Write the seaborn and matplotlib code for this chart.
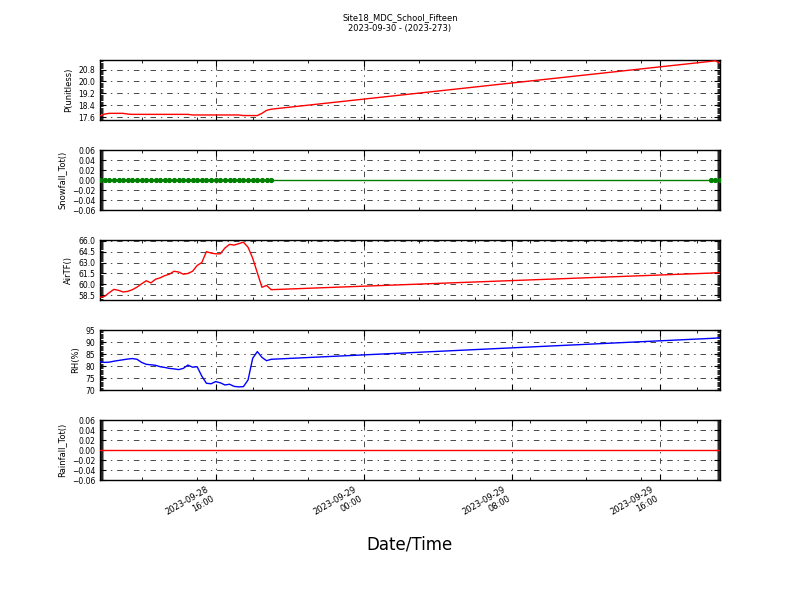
import pandas as pd
import seaborn as sns
import matplotlib.pyplot as plt
import matplotlib.dates as mdates
from matplotlib.ticker import AutoMinorLocator

# Título e rótulos
TITLE = "Site18_MDC_School_Fifteen\n2023-09-30 - (2023-273)"
XLABEL = "Date/Time"

# Tempos (15 min): bloco inicial + bloco final, com lacuna entre eles
times_start = pd.date_range("2023-09-28 09:45", "2023-09-28 19:00", freq="15min")
times_end = pd.date_range("2023-09-29 18:45", "2023-09-29 19:15", freq="15min")
times = times_start.append(times_end)

pressure = [17.68, 17.80, 17.85, 17.85, 17.85, 17.85, 17.80, 17.78, 17.78, 17.78,
            17.78, 17.78, 17.78, 17.78, 17.78, 17.78, 17.78, 17.78, 17.78, 17.78,
            17.74, 17.74, 17.74, 17.74, 17.74, 17.74, 17.74, 17.74, 17.74, 17.74,
            17.74, 17.70, 17.70, 17.70, 17.70, 17.85, 18.05, 18.13,
            21.36, 21.40, 21.22]

snowfall = [0.0, 0.0, 0.0, 0.0, 0.0, 0.0, 0.0, 0.0, 0.0, 0.0,
            0.0, 0.0, 0.0, 0.0, 0.0, 0.0, 0.0, 0.0, 0.0, 0.0,
            0.0, 0.0, 0.0, 0.0, 0.0, 0.0, 0.0, 0.0, 0.0, 0.0,
            0.0, 0.0, 0.0, 0.0, 0.0, 0.0, 0.0, 0.0,
            0.0, 0.0, 0.0]

air_temp = [58.23, 58.36, 58.86, 59.31, 59.18, 58.95, 59.04, 59.27, 59.62, 60.08,
            60.5, 60.2, 60.7, 60.9, 61.2, 61.4, 61.8, 61.7, 61.4, 61.5,
            61.8, 62.6, 63.0, 64.5, 64.3, 64.2, 64.2, 65.0, 65.5, 65.4,
            65.6, 65.8, 65.1, 63.6, 61.6, 59.6, 59.85, 59.27,
            61.55, 61.6, 61.6]

rel_hum = [81.8, 81.5, 81.6, 82.0, 82.3, 82.6, 82.9, 83.1, 82.8, 81.5,
           80.7, 80.5, 80.3, 79.7, 79.4, 79.0, 78.8, 78.5, 79.0, 80.4,
           79.5, 79.7, 75.8, 72.8, 72.6, 73.5, 73.0, 72.1, 72.4, 71.5,
           71.3, 71.4, 74.2, 83.2, 86.0, 83.6, 82.2, 82.8,
           91.5, 91.6, 91.8]

rainfall = [0.0, 0.0, 0.0, 0.0, 0.0, 0.0, 0.0, 0.0, 0.0, 0.0,
            0.0, 0.0, 0.0, 0.0, 0.0, 0.0, 0.0, 0.0, 0.0, 0.0,
            0.0, 0.0, 0.0, 0.0, 0.0, 0.0, 0.0, 0.0, 0.0, 0.0,
            0.0, 0.0, 0.0, 0.0, 0.0, 0.0, 0.0, 0.0,
            0.0, 0.0, 0.0]

# Ticks do eixo y de cada painel
P_TICKS = [17.6, 18.4, 19.2, 20.0, 20.8]
ZERO_TICKS = [-0.06, -0.04, -0.02, 0.00, 0.02, 0.04, 0.06]
T_TICKS = [58.5, 60.0, 61.5, 63.0, 64.5, 66.0]
RH_TICKS = [70, 75, 80, 85, 90, 95]

# (rótulo, valores, cor, marcador, ylim, ticks, formato)
PANELS = [
    ("P(unitless)", pressure, "red", None, (17.4, 21.45), P_TICKS, "%.1f"),
    ("Snowfall_Tot()", snowfall, "green", "o", (-0.06, 0.06), ZERO_TICKS, "%.2f"),
    ("AirTF()", air_temp, "red", None, (57.85, 66.1), T_TICKS, "%.1f"),
    ("RH(%)", rel_hum, "blue", None, (70, 95), RH_TICKS, "%d"),
    ("Rainfall_Tot()", rainfall, "red", None, (-0.06, 0.06), ZERO_TICKS, "%.2f"),
]

sns.set_style("ticks", {
    "xtick.direction": "in", "ytick.direction": "in",
    "xtick.top": True, "ytick.right": True,
    "axes.edgecolor": "black",
})
plt.rcParams["font.family"] = ["DejaVu Sans"]
plt.rcParams["text.color"] = "black"
plt.rcParams["axes.labelcolor"] = "black"
plt.rcParams["xtick.color"] = "black"
plt.rcParams["ytick.color"] = "black"

fig, axes = plt.subplots(5, 1, figsize=(8, 6), dpi=100, sharex=True)
fig.subplots_adjust(left=0.125, right=0.9, top=0.9, bottom=0.2, hspace=0.5)

for ax, (label, values, color, marker, ylim, ticks, fmt) in zip(axes, PANELS):
    df = pd.DataFrame({"time": times, "value": values})
    kw = {}
    if marker:
        kw = dict(marker=marker, markersize=3, markeredgecolor=color)
    sns.lineplot(data=df, x="time", y="value", ax=ax, color=color,
                 linewidth=1.0, zorder=3, **kw)
    ax.set_ylim(*ylim)
    ax.set_yticks(ticks)
    ax.set_yticklabels([(fmt % t).replace("-", "\u2212") for t in ticks])
    ax.yaxis.set_minor_locator(AutoMinorLocator(10))
    ax.set_ylabel(label, fontsize=6)
    ax.set_xlabel("")
    ax.tick_params(axis="both", which="both", direction="in",
                   top=True, right=True, labelsize=5.5, color="black")
    ax.tick_params(which="major", length=4, width=0.8)
    ax.tick_params(which="minor", length=2, width=0.6)
    ax.grid(True, which="major", linestyle=(0, (8, 7, 2, 7)),
            color="black", linewidth=0.5)
    for sp in ax.spines.values():
        sp.set_linewidth(1.0)
        sp.set_color("black")

ax = axes[-1]
ax.set_xlim(times[0], times[-1])
ax.xaxis.set_major_locator(mdates.HourLocator(byhour=[0, 8, 16]))
ax.xaxis.set_minor_locator(mdates.HourLocator(byhour=range(0, 24, 3)))
ax.xaxis.set_major_formatter(mdates.DateFormatter("%Y-%m-%d\n%H:%M"))
plt.setp(ax.get_xticklabels(), rotation=30, ha="right", fontsize=6)
ax.set_xlabel(XLABEL, fontsize=12, labelpad=7)

fig.suptitle(TITLE, fontsize=6, y=0.978)

plt.savefig("out.png", dpi=100)
